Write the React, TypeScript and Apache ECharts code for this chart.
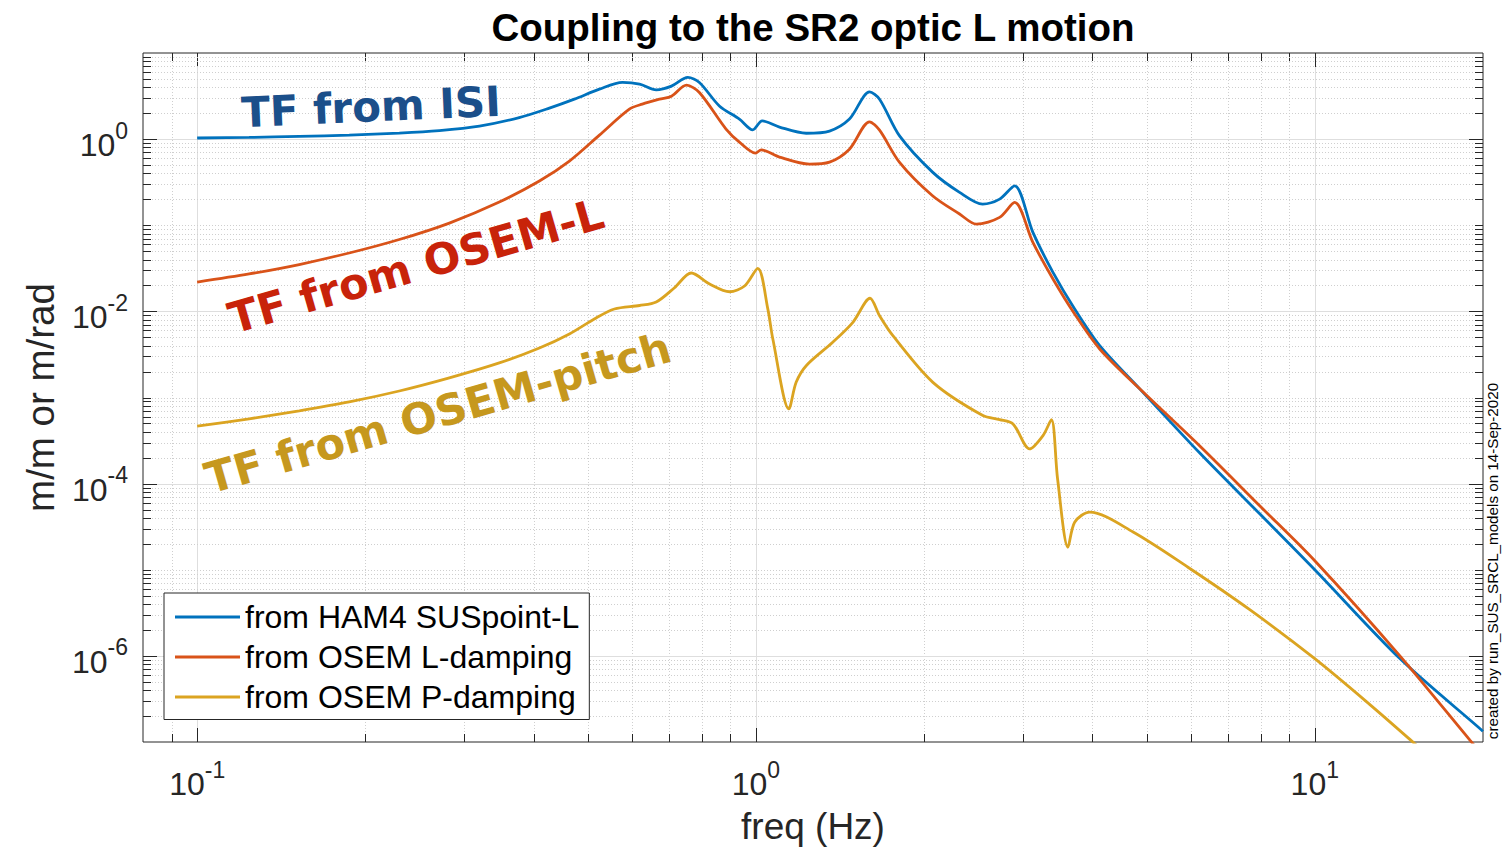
import React, { useEffect, useRef } from 'react';
import * as echarts from 'echarts';

// ---------- texts ----------
const chartTitle = 'Coupling to the SR2 optic L motion';
const xAxisName = 'freq (Hz)';
const yAxisName = 'm/m or m/rad';
const seriesNames = ['from HAM4 SUSpoint-L', 'from OSEM L-damping', 'from OSEM P-damping'];
const seriesColors = ['#0072BD', '#D95319', '#DBA421'];
const footnote = 'created by run_SUS_SRCL_models on 14-Sep-2020';

// ---------- data: [freq (Hz), magnitude] ----------
const isiData: [number, number][] = [
  [0.1, 1.03], [0.1239, 1.046], [0.1523, 1.075], [0.1871, 1.113], [0.23, 1.174],
  [0.2713, 1.255], [0.32, 1.415], [0.377, 1.776], [0.4269, 2.29], [0.4732, 2.91],
  [0.5246, 3.8], [0.577, 4.55], [0.619, 4.35], [0.663, 3.73], [0.706, 4.12], [0.755, 5.2],
  [0.792, 4.55], [0.86, 2.43], [0.934, 1.71], [0.987, 1.28], [1.026, 1.63], [1.102, 1.38],
  [1.23, 1.17], [1.354, 1.24], [1.47, 1.71], [1.597, 3.54], [1.664, 2.91], [1.807, 1.09],
  [2.07, 0.414], [2.314, 0.241], [2.545, 0.176], [2.729, 0.201], [2.903, 0.287],
  [3.13, 0.0827], [3.4, 0.0284], [3.718, 0.01066], [4.122, 0.004], [4.861, 1.26e-3],
  [6.22, 2.28e-4], [7.97, 4.46e-5], [10, 1.0e-5], [14.2, 9.3e-7], [19.9, 1.37e-7],
  [20, 1.33e-7],
];

const osemLData: [number, number][] = [
  [0.1, 0.0219], [0.1239, 0.0272], [0.1523, 0.035], [0.1871, 0.0476], [0.23, 0.0683],
  [0.2827, 0.106], [0.3473, 0.186], [0.4097, 0.326], [0.4636, 0.556], [0.5246, 1.113],
  [0.5935, 2.23], [0.626, 2.55], [0.672, 2.91], [0.706, 3.15], [0.751, 4.23], [0.792, 3.48],
  [0.884, 1.31], [0.934, 0.923], [0.998, 0.688], [1.022, 0.751], [1.102, 0.618],
  [1.247, 0.513], [1.354, 0.541], [1.47, 0.765], [1.597, 1.59], [1.664, 1.27],
  [1.807, 0.537], [2.07, 0.22], [2.314, 0.135], [2.48, 0.103], [2.729, 0.1235],
  [2.903, 0.184], [3.13, 0.0633], [3.4, 0.0238], [3.718, 9.33e-3], [4.122, 3.66e-3],
  [4.861, 1.26e-3], [6.22, 2.75e-4], [7.97, 5.53e-5], [10, 1.27e-5], [14.2, 1.0e-6],
  [18.95, 1.05e-7], [20, 6.9e-8],
];

const osemPData: [number, number][] = [
  [0.1, 4.65e-4], [0.1239, 5.65e-4], [0.1523, 7.0e-4], [0.1871, 8.89e-4], [0.23, 1.19e-3],
  [0.2827, 1.69e-3], [0.3473, 2.52e-3], [0.4097, 3.76e-3], [0.4636, 5.47e-3],
  [0.5137, 8.16e-3], [0.558, 0.01066], [0.619, 0.0117], [0.663, 0.01285], [0.714, 0.0187],
  [0.766, 0.0279], [0.826, 0.0208], [0.897, 0.0169], [0.954, 0.0197], [1.0075, 0.0316],
  [1.05, 0.0107], [1.072, 4.78e-3], [1.145, 7.38e-4], [1.18, 1.5e-3], [1.23, 2.34e-3],
  [1.372, 4.38e-3], [1.491, 7.47e-3], [1.6, 0.0142], [1.664, 8.9e-3], [1.758, 5.22e-3],
  [2.073, 1.5e-3], [2.547, 6.17e-4], [2.729, 5.54e-4], [2.884, 4.94e-4], [3.088, 2.53e-4],
  [3.263, 3.61e-4], [3.378, 5.54e-4], [3.465, 1.14e-4], [3.617, 1.83e-5], [3.718, 3.57e-5],
  [3.955, 4.67e-5], [4.73, 2.74e-5], [5.93, 1.07e-5], [7.65, 3.44e-6], [10, 9.28e-7],
  [12.55, 2.72e-7], [14.9, 1.03e-7], [20, 1.9e-8],
];

// ---------- axes ----------
const xRange = [0.08, 20];
const yRange = [1e-7, 10];
const xMajorTicks = [0.1, 1, 10];
const xMinorTicks = [0.09, 0.2, 0.3, 0.4, 0.5, 0.6, 0.7, 0.8, 0.9, 2, 3, 4, 5, 6, 7, 8, 9];
const yMajorTicks = [1e-6, 1e-4, 1e-2, 1];
const yDecades = [-7, -6, -5, -4, -3, -2, -1, 0];
const yMantissas = [1, 2, 3, 4, 5, 6, 7, 8, 9];

function buildYMinor(): number[] {
  const out: number[] = [];
  for (const d of yDecades) {
    for (const m of yMantissas) {
      const v = parseFloat((m * Math.pow(10, d)).toPrecision(6));
      const isMajor = yMajorTicks.some((t) => Math.abs(Math.log10(t) - Math.log10(v)) < 1e-9);
      if (!isMajor && v > yRange[0] * 1.0001 && v < yRange[1] * 0.9999) out.push(v);
    }
  }
  return out;
}

const FONT = 'Liberation Sans';
const AXIS_COLOR = '#262626';

function expOf(v: number): number | null {
  const l = Math.log10(v);
  const e = Math.round(l);
  return Math.abs(l - e) < 1e-6 ? e : null;
}

export default function App() {
  const ref = useRef<HTMLDivElement>(null);

  useEffect(() => {
    if (!ref.current) return;
    const chart = echarts.init(ref.current, null, { renderer: 'svg' });

    const yMinorTicks = buildYMinor();
    const gridLineData: number[][] = [
      ...xMajorTicks.map((v) => [v, 1, 0]),
      ...xMinorTicks.map((v) => [v, 1, 1]),
      ...yMajorTicks.map((v) => [1, v, 2]),
      ...yMinorTicks.map((v) => [1, v, 3]),
    ];

    const renderGrid = (params: any, api: any) => {
      const cs = params.coordSys;
      const kind = api.value(2);
      const tickStyle = { stroke: AXIS_COLOR, lineWidth: 1 };
      const majorStyle = { stroke: '#dedede', lineWidth: 1 };
      const minorStyle = { stroke: '#cfcfcf', lineWidth: 1, lineDash: [1, 2] };
      const children: any[] = [];
      if (kind === 0 || kind === 1) {
        const major = kind === 0;
        const px = Math.round(api.coord([api.value(0), 1])[0]) + 0.5;
        const top = cs.y;
        const bot = cs.y + cs.height;
        const len = major ? 14 : 8;
        children.push({ type: 'line', shape: { x1: px, y1: top, x2: px, y2: bot }, style: major ? majorStyle : minorStyle });
        children.push({ type: 'line', shape: { x1: px, y1: bot, x2: px, y2: bot - len }, style: tickStyle });
        children.push({ type: 'line', shape: { x1: px, y1: top, x2: px, y2: top + len }, style: tickStyle });
      } else {
        const major = kind === 2;
        const py = Math.round(api.coord([1, api.value(1)])[1]) + 0.5;
        const left = cs.x;
        const right = cs.x + cs.width;
        const len = major ? 14 : 8;
        children.push({ type: 'line', shape: { x1: left, y1: py, x2: right, y2: py }, style: major ? majorStyle : minorStyle });
        children.push({ type: 'line', shape: { x1: left, y1: py, x2: left + len, y2: py }, style: tickStyle });
        children.push({ type: 'line', shape: { x1: right, y1: py, x2: right - len, y2: py }, style: tickStyle });
      }
      return { type: 'group', children };
    };

    const labelRich = {
      b: { fontSize: 32, fontFamily: FONT, color: AXIS_COLOR, lineHeight: 52 },
      s: { fontSize: 23, fontFamily: FONT, color: AXIS_COLOR, lineHeight: 22, verticalAlign: 'top' },
    };

    const lineSeries = [isiData, osemLData, osemPData].map((d, i) => ({
      name: seriesNames[i],
      type: 'line',
      data: d,
      showSymbol: false,
      symbol: 'none',
      smooth: 0.3,
      clip: true,
      silent: true,
      z: 3,
      lineStyle: { width: 2.8, color: seriesColors[i] },
      itemStyle: { color: seriesColors[i] },
    }));

    const deg = Math.PI / 180;

    chart.setOption({
      animation: false,
      backgroundColor: '#ffffff',
      title: {
        text: chartTitle,
        left: 813,
        top: 8,
        textAlign: 'center',
        padding: 0,
        textStyle: { fontSize: 38.5, fontWeight: 'bold', fontFamily: FONT, color: '#000' },
      },
      grid: {
        left: 143,
        right: 21,
        top: 53,
        bottom: 119,
        show: true,
        borderColor: AXIS_COLOR,
        borderWidth: 1,
        backgroundColor: '#ffffff',
        containLabel: false,
        outerBoundsMode: 'none',
      },
      legend: {
        data: seriesNames,
        orient: 'vertical',
        left: 164,
        top: 593,
        padding: [8, 10, 6.5, 11],
        itemGap: 8,
        itemWidth: 65,
        itemHeight: 3,
        icon: 'rect',
        backgroundColor: '#ffffff',
        borderColor: AXIS_COLOR,
        borderWidth: 1,
        borderRadius: 0,
        selectedMode: false,
        textStyle: { fontSize: 32, fontFamily: FONT, color: '#000', lineHeight: 31 },
      },
      xAxis: {
        type: 'log',
        logBase: 10,
        min: xRange[0],
        max: xRange[1],
        name: xAxisName,
        nameLocation: 'middle',
        nameGap: 66,
        nameMoveOverlap: false,
        nameTextStyle: { fontSize: 37, fontFamily: FONT, color: AXIS_COLOR },
        axisLine: { show: false },
        axisTick: { show: false },
        splitLine: { show: false },
        minorTick: { show: false },
        axisLabel: {
          margin: 16,
          rich: labelRich,
          formatter: (v: number) => {
            const e = expOf(v);
            if (e === null || e < -1 || e > 1) return '';
            return `{b|10}{s|${e}}`;
          },
        },
      },
      yAxis: {
        type: 'log',
        logBase: 10,
        min: yRange[0],
        max: yRange[1],
        name: yAxisName,
        nameLocation: 'middle',
        nameGap: 83,
        nameMoveOverlap: false,
        nameTextStyle: { fontSize: 38.5, fontFamily: FONT, color: AXIS_COLOR },
        axisLine: { show: false },
        axisTick: { show: false },
        splitLine: { show: false },
        minorTick: { show: false },
        axisLabel: {
          margin: 15,
          padding: [12, 0, 0, 0],
          rich: labelRich,
          formatter: (v: number) => {
            const e = expOf(v);
            if (e === null || e % 2 !== 0 || e < -6 || e > 0) return '';
            return `{b|10}{s|${e}}`;
          },
        },
      },
      series: [
        {
          name: 'grid',
          type: 'custom',
          data: gridLineData,
          renderItem: renderGrid,
          silent: true,
          z: 1,
          clip: false,
        },
        ...lineSeries,
      ],
      graphic: [
        {
          type: 'text', x: 371, y: 107, rotation: 2.5 * deg, z: 10, silent: true,
          style: { text: 'TF from ISI', font: 'bold 42px "DejaVu Sans"', fill: '#1B4F8A', textAlign: 'center', textVerticalAlign: 'middle', align: 'center', verticalAlign: 'middle' },
        },
        {
          type: 'text', x: 416, y: 266, rotation: 16 * deg, z: 10, silent: true,
          style: { text: 'TF from OSEM-L', font: 'bold 43px "DejaVu Sans"', fill: '#C8230A', textAlign: 'center', textVerticalAlign: 'middle', align: 'center', verticalAlign: 'middle' },
        },
        {
          type: 'text', x: 438, y: 413, rotation: 16 * deg, z: 10, silent: true,
          style: { text: 'TF from OSEM-pitch', font: 'bold 43px "DejaVu Sans"', fill: '#C6981E', textAlign: 'center', textVerticalAlign: 'middle', align: 'center', verticalAlign: 'middle' },
        },
        {
          type: 'text', x: 1492, y: 561, rotation: 90 * deg, z: 10, silent: true,
          style: { text: footnote, font: '15.2px "Liberation Sans"', fill: '#000', textAlign: 'center', textVerticalAlign: 'middle', align: 'center', verticalAlign: 'middle' },
        },
      ],
    });

    return () => chart.dispose();
  }, []);

  return (
    <div
      ref={ref}
      style={{ position: 'fixed', left: 0, top: 0, width: 1504, height: 861, background: '#fff' }}
    />
  );
}
